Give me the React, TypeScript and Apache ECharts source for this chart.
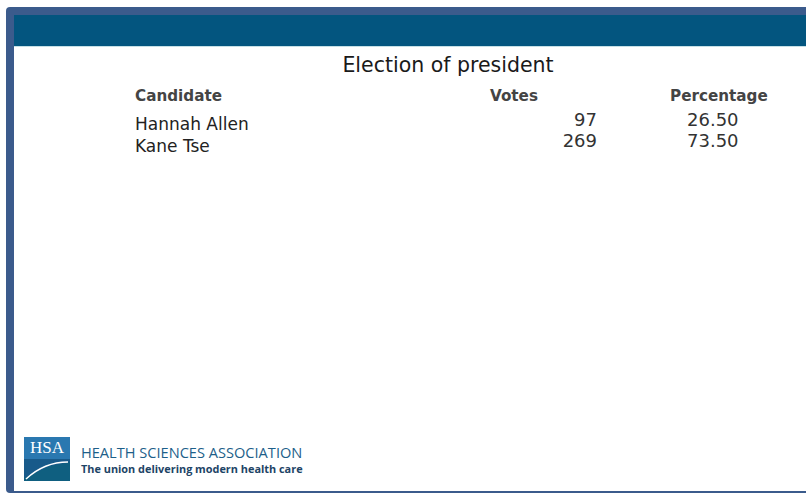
import React, { useEffect, useRef } from "react";
import * as echarts from "echarts";

const title = "Election of president";
const headers = ["Candidate", "Votes", "Percentage"];
const candidates = ["Hannah Allen", "Kane Tse"];
const votes = [97, 269];
const percentages = [26.5, 73.5];
const orgName = "HEALTH SCIENCES ASSOCIATION";
const orgTagline = "The union delivering modern health care";
const orgShort = "HSA";

export default function App() {
  const ref = useRef<HTMLDivElement>(null);
  useEffect(() => {
    document.body.style.margin = "0";
    const chart = echarts.init(ref.current!, null, { renderer: "svg" });
    const font = "DejaVu Sans, Verdana, sans-serif";
    const rowGap = 22;
    const elements: any[] = [
      { type: "rect", shape: { x: 6, y: 7, width: 806, height: 486, r: 4 }, style: { fill: "#3b5b8c" } },
      { type: "rect", shape: { x: 14, y: 15, width: 800, height: 476 }, style: { fill: "#ffffff" } },
      { type: "rect", shape: { x: 14, y: 15, width: 800, height: 31 }, style: { fill: "#03557f" } },
      { type: "rect", shape: { x: 14, y: 46, width: 800, height: 1 }, style: { fill: "#c6e0e6" } },
      {
        type: "text", x: 448, y: 65,
        style: { text: title, font: `20.5px ${font}`, fill: "#1a1a1a", textAlign: "center", textVerticalAlign: "middle" },
      },
      {
        type: "text", x: 135, y: 96,
        style: { text: headers[0], font: `bold 15.2px ${font}`, fill: "#444", textAlign: "left", textVerticalAlign: "middle" },
      },
      {
        type: "text", x: 490, y: 96,
        style: { text: headers[1], font: `bold 15.2px ${font}`, fill: "#444", textAlign: "left", textVerticalAlign: "middle" },
      },
      {
        type: "text", x: 670, y: 96,
        style: { text: headers[2], font: `bold 15.2px ${font}`, fill: "#444", textAlign: "left", textVerticalAlign: "middle" },
      },
    ];
    candidates.forEach((c, i) => {
      elements.push({
        type: "text", x: 135, y: 124 + i * rowGap,
        style: { text: c, font: `17px ${font}`, fill: "#222", textAlign: "left", textVerticalAlign: "middle" },
      });
      elements.push({
        type: "text", x: 597, y: 119 + i * 21,
        style: { text: String(votes[i]), font: `18px ${font}`, fill: "#333", textAlign: "right", textVerticalAlign: "middle" },
      });
      elements.push({
        type: "text", x: 687, y: 119 + i * 21,
        style: { text: percentages[i].toFixed(2), font: `18px ${font}`, fill: "#333", textAlign: "left", textVerticalAlign: "middle" },
      });
    });
    // logo
    elements.push(
      { type: "rect", shape: { x: 24, y: 437, width: 46, height: 44 }, style: { fill: "#0f5f80" } },
      { type: "rect", shape: { x: 24, y: 437, width: 46, height: 22 }, style: { fill: "#2a78b0" } },
      {
        type: "polygon",
        shape: { points: [[24, 459], [70, 459], [70, 462], [50, 466], [24, 478]] },
        style: { fill: "#185a8a" },
      },
      {
        type: "bezierCurve",
        shape: { x1: 26, y1: 479, x2: 68, y2: 462, cpx1: 40, cpy1: 466, cpx2: 55, cpy2: 462 },
        style: { stroke: "#ffffff", lineWidth: 1.6, fill: "none" },
      },
      {
        type: "text", x: 47, y: 447,
        style: { text: orgShort, font: "17px Liberation Serif, serif", fill: "#ffffff", textAlign: "center", textVerticalAlign: "middle" },
      },
      {
        type: "text", x: 81, y: 452,
        style: { text: orgName, font: "14.6px Open Sans, sans-serif", fill: "#1d5f8a", textAlign: "left", textVerticalAlign: "middle", lineHeight: 15 },
      },
      {
        type: "text", x: 81, y: 468,
        style: { text: orgTagline, font: "bold 10.9px Open Sans, sans-serif", fill: "#1d4466", textAlign: "left", textVerticalAlign: "middle", lineHeight: 11 },
      }
    );
    chart.setOption({ animation: false, graphic: { elements } });
    return () => chart.dispose();
  }, []);
  return <div ref={ref} style={{ width: 806, height: 493 }} />;
}
